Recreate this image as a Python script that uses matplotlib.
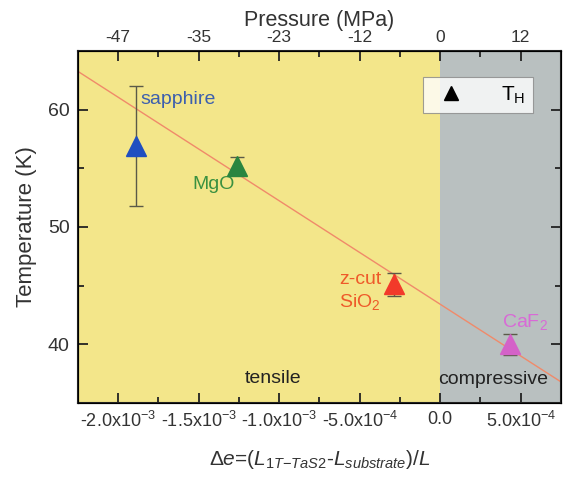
import numpy as np
import matplotlib
matplotlib.use("Agg")
import matplotlib.pyplot as plt
from matplotlib.ticker import MultipleLocator

plt.rcParams['font.family'] = ['Liberation Sans', 'DejaVu Sans']
plt.rcParams['mathtext.fontset'] = 'custom'
plt.rcParams['mathtext.rm'] = 'Liberation Sans'
plt.rcParams['mathtext.it'] = 'Liberation Sans:italic'

# substrate data: strain, T_H, error
substrates = ['sapphire', 'MgO', 'z-cut SiO2', 'CaF2']
strain = [-1.89e-3, -1.265e-3, -0.29e-3, 0.435e-3]
temp_h = [56.9, 55.2, 45.1, 40.0]
temp_err = [5.1, 0.8, 1.0, 0.9]
marker_colors = ['#1f4fc0', '#2a8540', '#f23a2a', '#d462c8']
label_colors = ['#3c5fae', '#3a9140', '#ee5a2a', '#d86ad6']

# linear fit line (end points)
fit_x = [-2.25e-3, 7.5e-4]
fit_t = [63.26, 36.8]

# tick labels, bottom (strain) and top (pressure)
bottom_ticks = [-2.0e-3, -1.5e-3, -1.0e-3, -5.0e-4, 0.0, 5.0e-4]
bottom_labels = [r'-2.0x10$^{-3}$', r'-1.5x10$^{-3}$', r'-1.0x10$^{-3}$',
                 r'-5.0x10$^{-4}$', '0.0', r'5.0x10$^{-4}$']
pressure_labels = ['-47', '-35', '-23', '-12', '0', '12']

xlim = (-2.25e-3, 7.5e-4)
ylim = (35, 65)

fig = plt.figure(figsize=(5.63, 4.82), dpi=100)
ax = fig.add_axes([0.1385, 0.1639, 0.8579, 0.7303])

ax.axvspan(xlim[0], 0, color='#f3e68a', lw=0, zorder=0)
ax.axvspan(0, xlim[1], color='#b9c0c0', lw=0, zorder=0)

ax.plot(fit_x, fit_t, color='#f08a6a', lw=1.0, zorder=2)

for x, t, e, mc in zip(strain, temp_h, temp_err, marker_colors):
    ax.errorbar(x, t, yerr=e, fmt='none', ecolor='#5a5a48', elinewidth=1.0,
                capsize=5, capthick=1.0, zorder=3)
    ax.plot(x, t, marker='^', ms=14, color=mc, mec=mc, ls='none', zorder=4)

# legend handle
ax.plot([], [], marker='^', ms=10, color='black', ls='none', label=r'T$_\mathregular{H}$')
leg = ax.legend(loc='upper right', bbox_to_anchor=(0.942, 0.926), frameon=True,
                fancybox=False, fontsize=15, handletextpad=1.4, borderpad=0.35,
                handlelength=2.0, borderaxespad=0)
leg.get_frame().set_edgecolor('#888888')
leg.get_frame().set_linewidth(0.8)

# substrate labels
ax.text(-1.863e-3, 60.85, 'sapphire', color=label_colors[0], fontsize=14,
        ha='left', va='center')
ax.text(-1.41e-3, 53.6, 'MgO', color=label_colors[1], fontsize=14,
        ha='center', va='center')
ax.text(-0.627e-3, 45.5, 'z-cut', color=label_colors[2], fontsize=14,
        ha='left', va='center')
ax.text(-0.627e-3, 43.6, r'SiO$_2$', color=label_colors[2], fontsize=14,
        ha='left', va='center')
ax.text(0.385e-3, 41.9, r'CaF$_2$', color=label_colors[3], fontsize=14,
        ha='left', va='center')
ax.text(-1.037e-3, 37.1, 'tensile', color='#222222', fontsize=14,
        ha='center', va='center')
ax.text(0.33e-3, 37.0, 'compressive', color='#222222', fontsize=14,
        ha='center', va='center')

ax.set_xlim(*xlim)
ax.set_ylim(*ylim)
ax.set_xticks(bottom_ticks)
ax.set_xticklabels(bottom_labels)
ax.xaxis.set_minor_locator(MultipleLocator(2.5e-4))
ax.yaxis.set_major_locator(MultipleLocator(10))
ax.yaxis.set_minor_locator(MultipleLocator(5))
ax.tick_params(which='both', direction='in', right=True,
               width=1.3, colors='#222222', labelcolor='#333333')
ax.tick_params(axis='x', labelsize=13)
ax.tick_params(axis='y', labelsize=14)
ax.tick_params(which='major', length=7, pad=6)
ax.tick_params(which='minor', length=4)
for s in ax.spines.values():
    s.set_linewidth(1.5)
    s.set_color('#222222')

ax.set_ylabel('Temperature (K)', fontsize=16, color='#333333', labelpad=8)
ax.set_xlabel(r'$\Delta e$=($L_{1T\mathrm{-}TaS2}$-$L_{substrate}$)/$L$',
              fontsize=15, color='#333333', labelpad=12)

top = ax.twiny()
top.set_xlim(*xlim)
top.set_xticks(bottom_ticks)
top.set_xticklabels(pressure_labels)
top.xaxis.set_minor_locator(MultipleLocator(2.5e-4))
top.tick_params(which='both', direction='in', labelsize=12.5, width=1.3,
                colors='#222222', labelcolor='#333333')
top.tick_params(which='major', length=7, pad=4)
top.tick_params(which='minor', length=4)
top.set_xlabel('Pressure (MPa)', fontsize=15.5, color='#333333', labelpad=3)

fig.savefig('out.png', dpi=100)
